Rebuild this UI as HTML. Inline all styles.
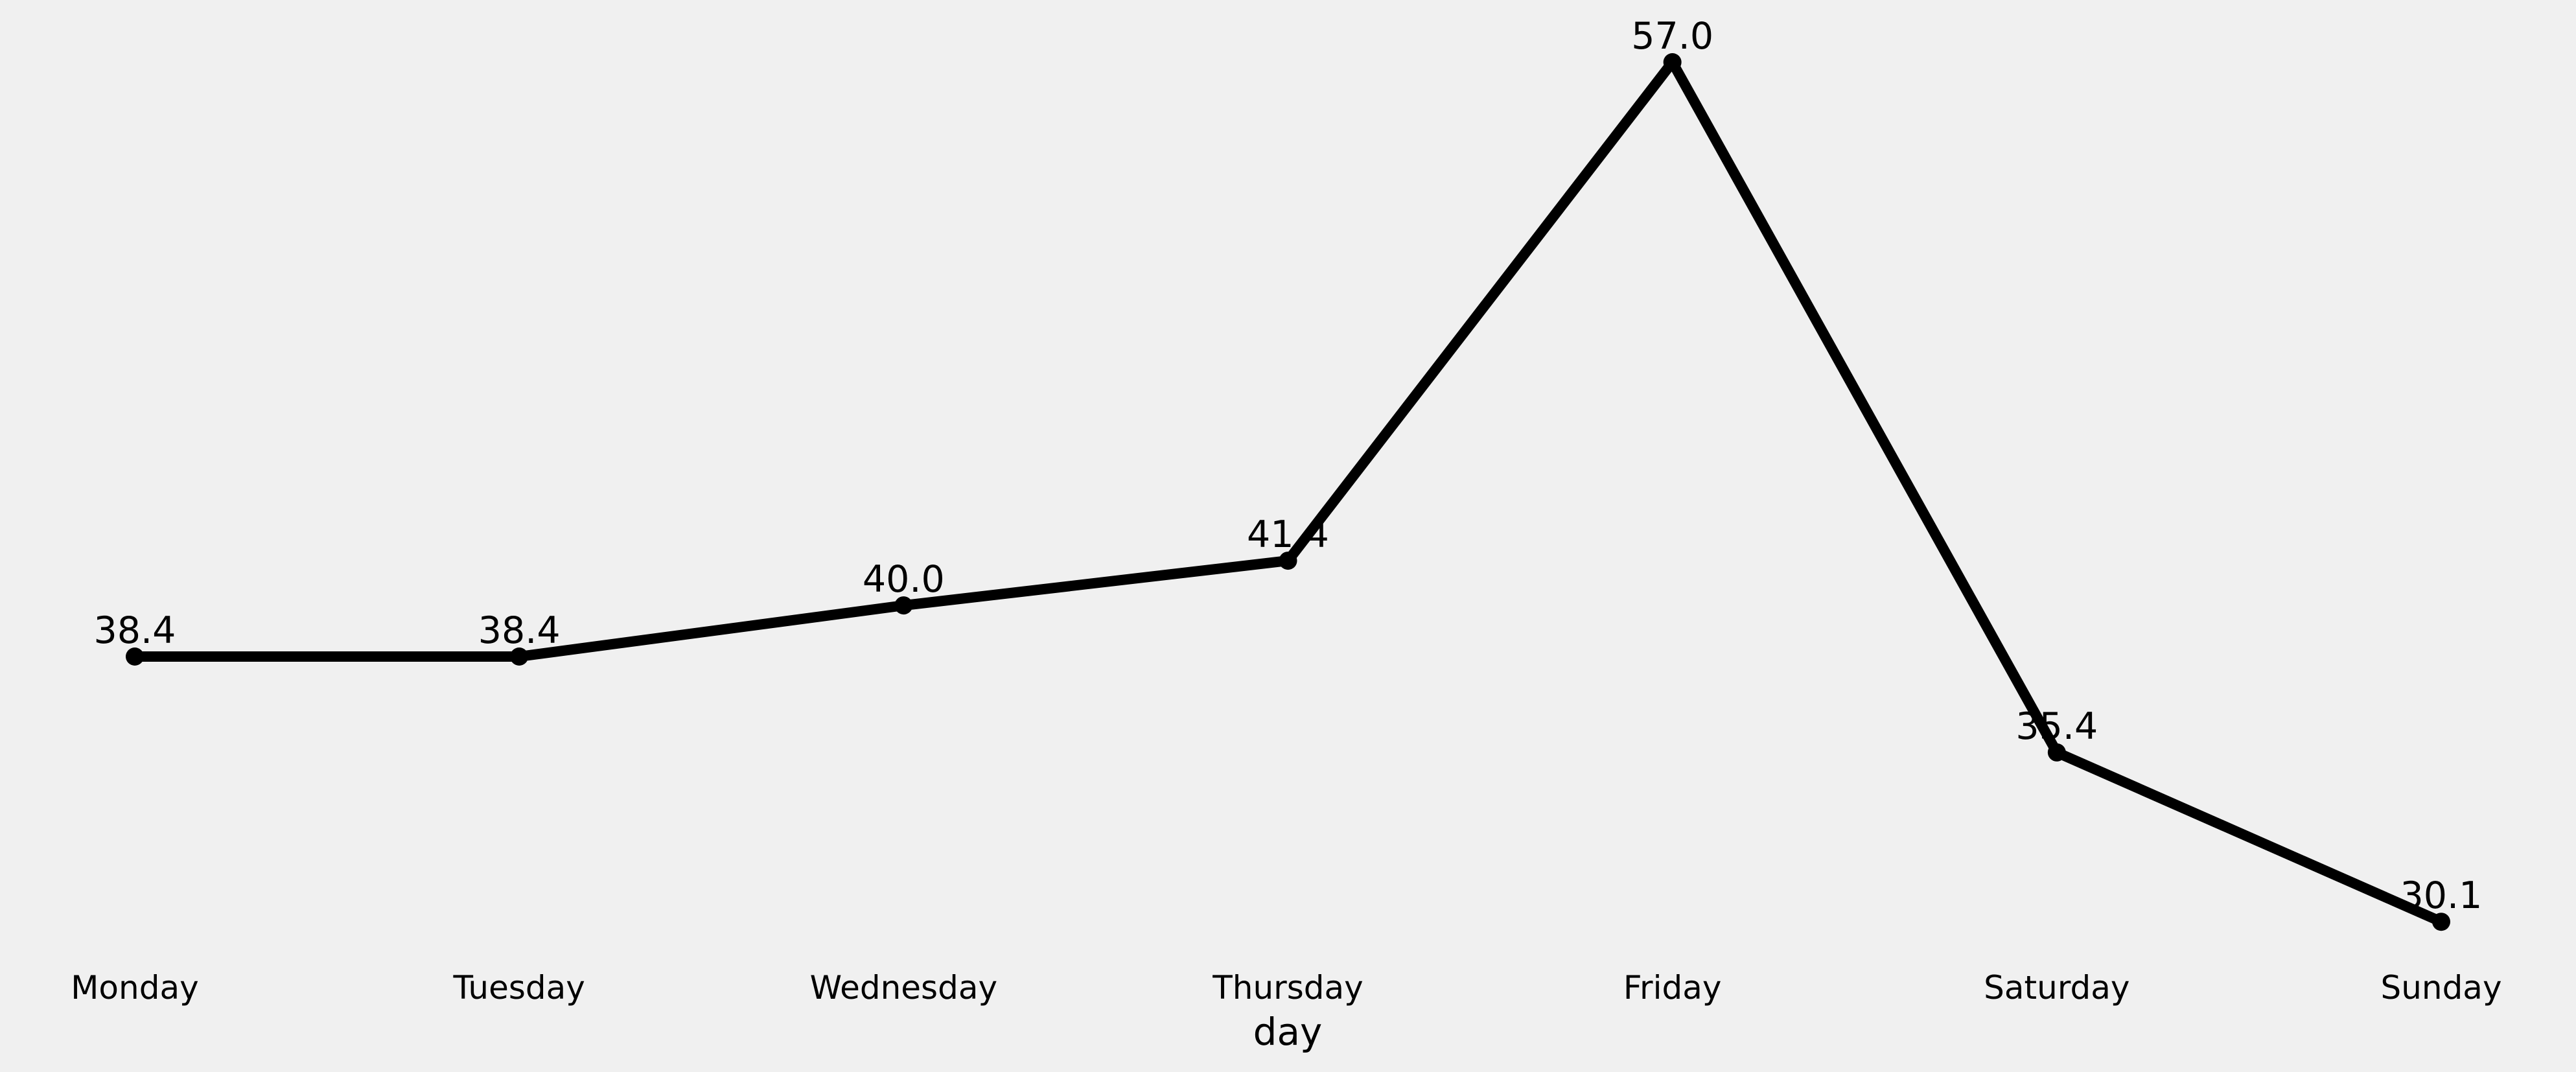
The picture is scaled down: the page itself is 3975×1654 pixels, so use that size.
<!DOCTYPE html>
<html><head><meta charset="utf-8"><style>
html,body{margin:0;padding:0;background:#f0f0f0;}
svg{display:block;font-family:"DejaVu Sans","Liberation Sans",sans-serif;}
</style></head><body>
<svg id="chart" width="3975" height="1654" viewBox="0 0 3975 1654" xmlns="http://www.w3.org/2000/svg">
<rect x="0" y="0" width="3975" height="1654" fill="#f0f0f0"/>
<g id="plot"></g>
<text x="1987" y="1612" font-size="58" text-anchor="middle">day</text>
</svg>
<script>
const categories = ["Monday","Tuesday","Wednesday","Thursday","Friday","Saturday","Sunday"];
const values = [38.4, 38.4, 40.0, 41.4, 57.0, 35.4, 30.1];
const valueLabels = ["38.4","38.4","40.0","41.4","57.0","35.4","30.1"];

const NS = "http://www.w3.org/2000/svg";
const x0 = 208, x1 = 3767;
function xScale(i){ return x0 + (x1 - x0) * i / (categories.length - 1); }
function yScale(v){ return 1013 + (38.4 - v) * 49.3; }
const g = document.getElementById('plot');

let d = values.map((v,i)=>(i?'L':'M')+xScale(i)+','+yScale(v)).join(' ');
const path = document.createElementNS(NS,'path');


path.setAttribute('d', d);
path.setAttribute('fill','none');
path.setAttribute('stroke','#000');
path.setAttribute('stroke-width','16');
path.setAttribute('stroke-linejoin','round');
g.appendChild(path);

values.forEach((v,i)=>{
  const c = document.createElementNS(NS,'circle');
  
  
  c.setAttribute('cx', xScale(i));
  c.setAttribute('cy', yScale(v));
  c.setAttribute('r', 14);
  c.setAttribute('fill', '#000');
  g.appendChild(c);

  const t = document.createElementNS(NS,'text');
  
  
  t.setAttribute('x', xScale(i));
  t.setAttribute('y', yScale(v) - 21);
  t.setAttribute('font-size', 57);
  t.setAttribute('text-anchor', 'middle');
  t.textContent = valueLabels[i];
  g.appendChild(t);

  const tk = document.createElementNS(NS,'text');
  
  
  tk.setAttribute('x', xScale(i));
  tk.setAttribute('y', 1541);
  tk.setAttribute('font-size', 50);
  tk.setAttribute('text-anchor', 'middle');
  tk.textContent = categories[i];
  g.appendChild(tk);
});
</script>
</body></html>
